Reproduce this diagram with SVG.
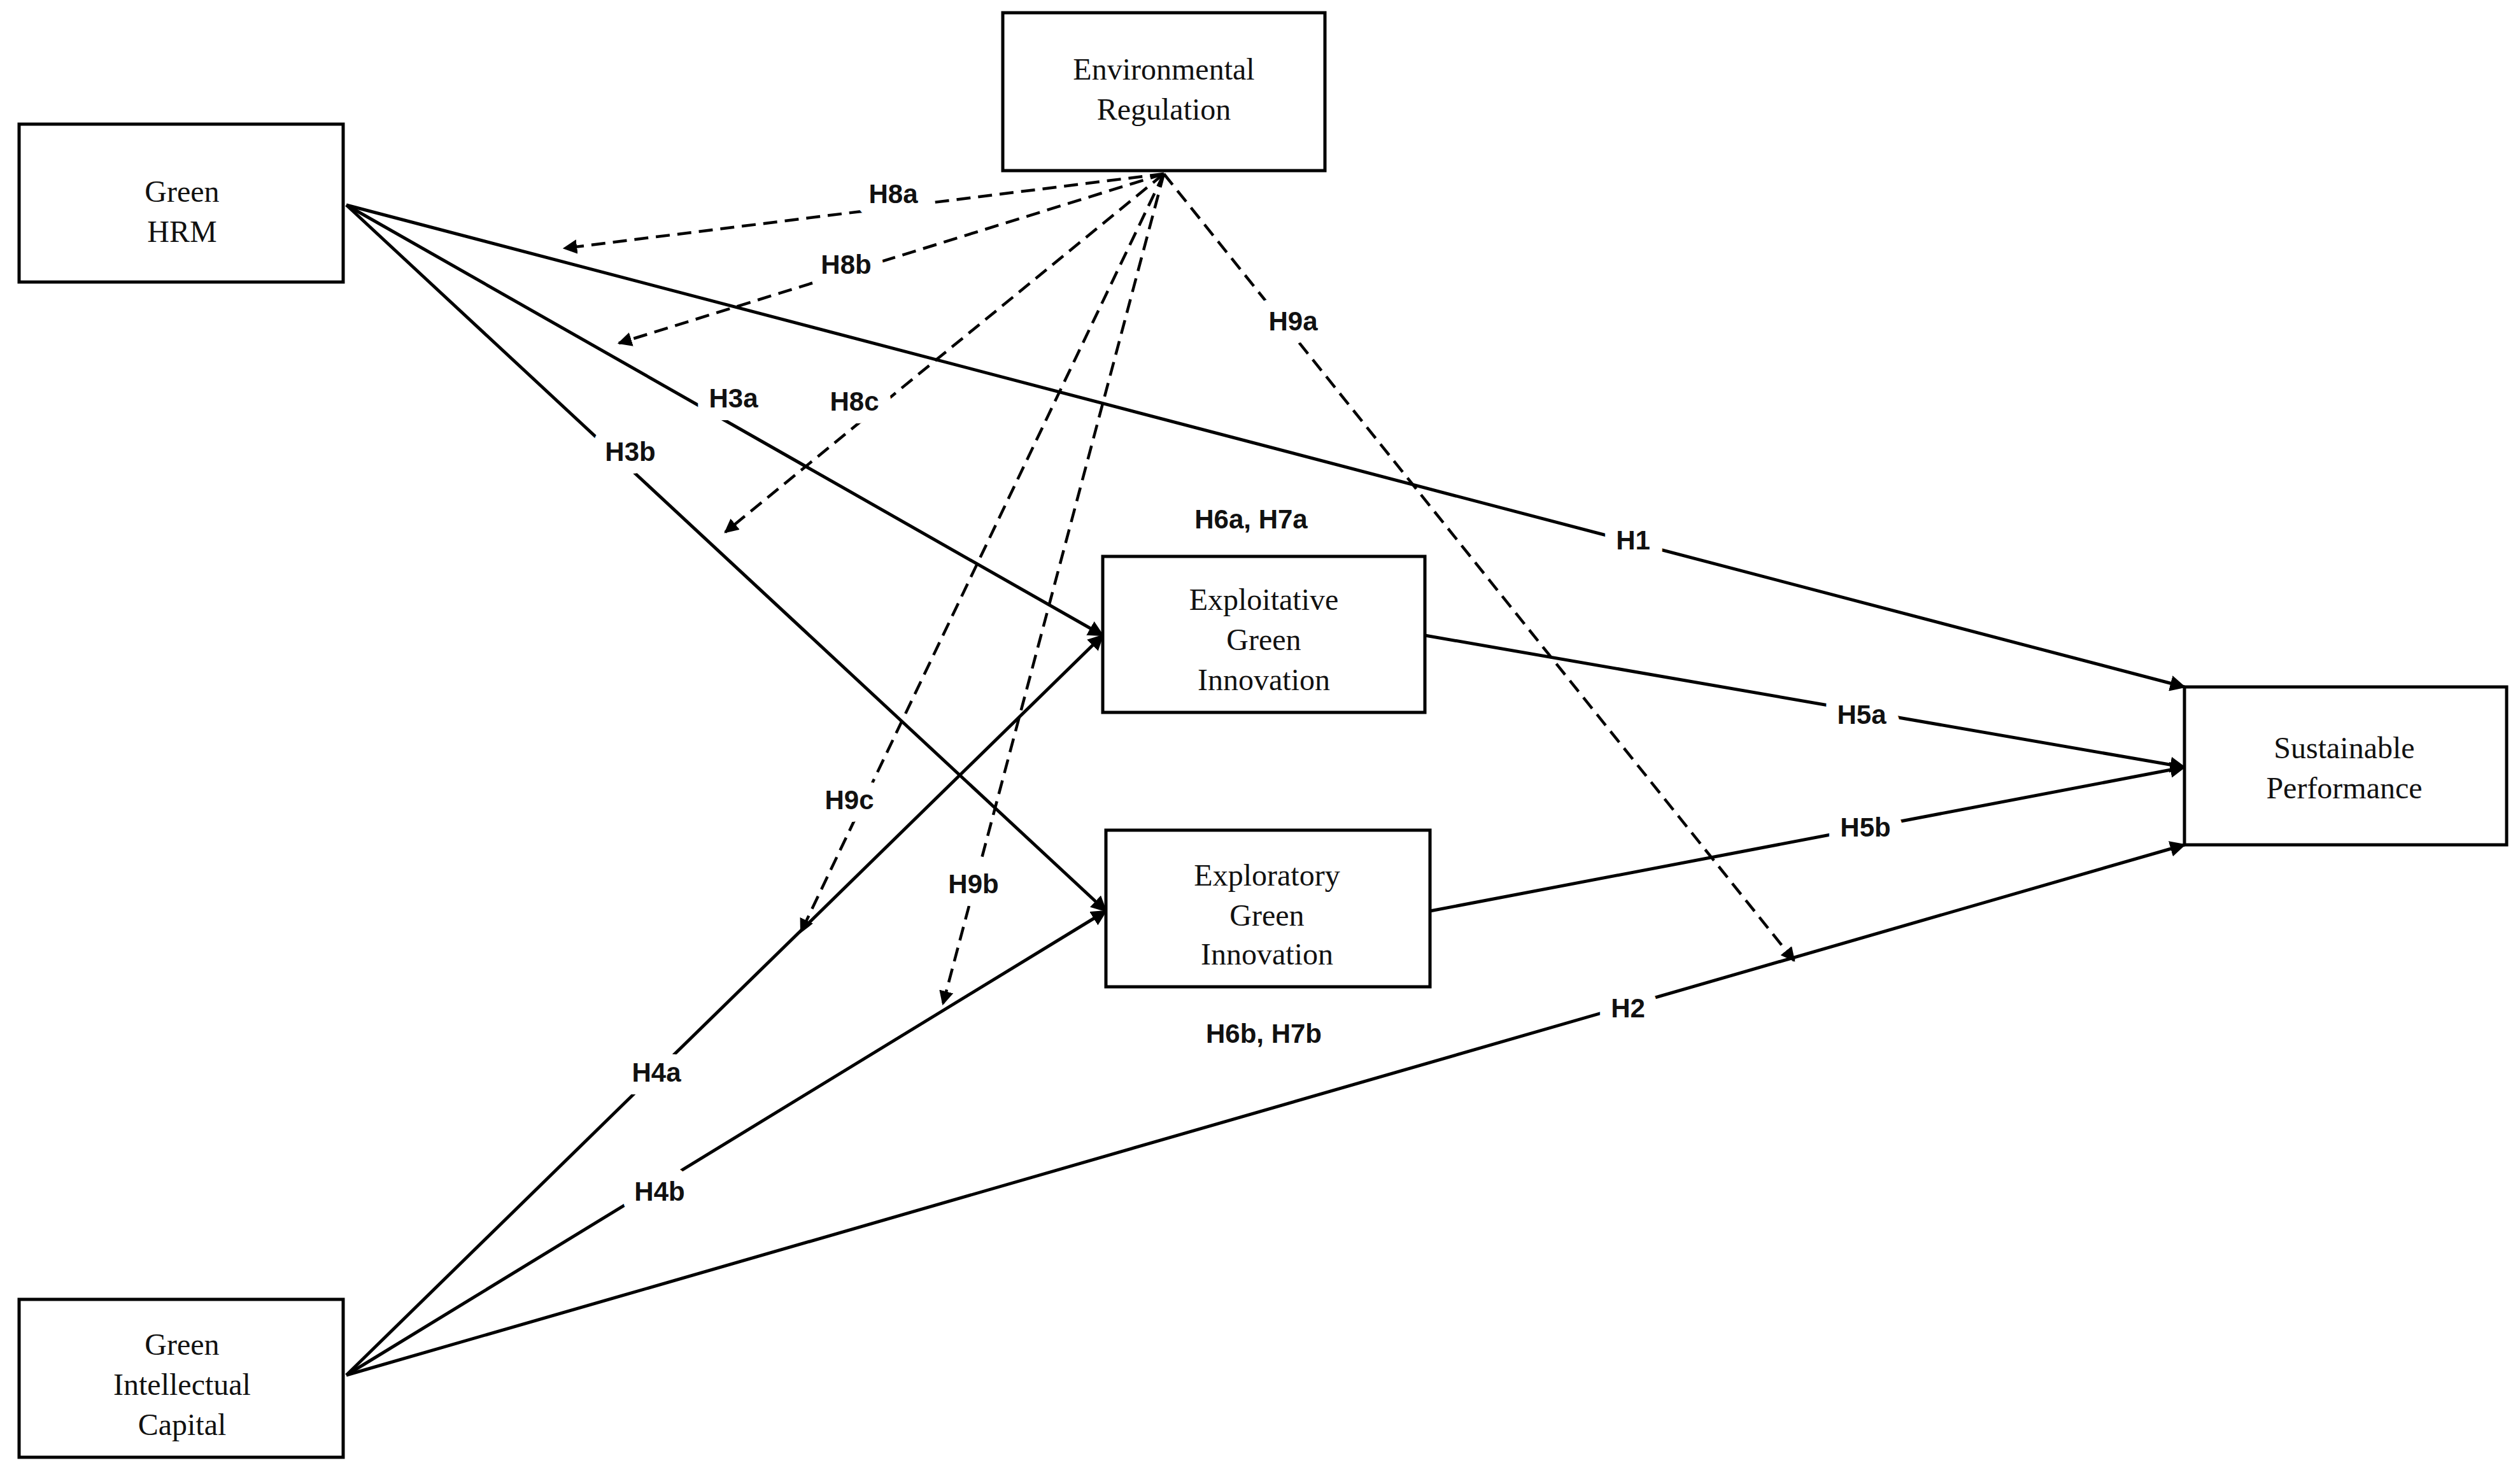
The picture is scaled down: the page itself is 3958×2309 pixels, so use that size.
<svg xmlns="http://www.w3.org/2000/svg" width="3958" height="2309" viewBox="0 0 3958 2309">
<style>
.box{fill:#fff;stroke:#000;stroke-width:5}
.nt{font-family:"Liberation Serif",serif;font-size:48px;text-anchor:middle;fill:#111}
.s{stroke:#000;stroke-width:5;fill:none}
.d{stroke:#000;stroke-width:4.5;fill:none;stroke-dasharray:22 12}
.lb{font-family:"Liberation Sans",sans-serif;font-weight:bold;font-size:42px;text-anchor:middle;fill:#111;stroke:#fff;stroke-width:40;paint-order:stroke;stroke-linejoin:round}
</style>
<defs>
<marker id="a" viewBox="0 0 10 10" refX="9" refY="5" markerWidth="5" markerHeight="5" orient="auto" markerUnits="strokeWidth"><path d="M0,0 L10,5 L0,10 z" fill="#000"/></marker>
</defs>
<rect width="3958" height="2309" fill="#fff"/>
<g id="connectors">
<line class="s" x1="544" y1="322" x2="3431" y2="1079" marker-end="url(#a)"/>
<line class="s" x1="544" y1="322" x2="1732" y2="998" marker-end="url(#a)"/>
<line class="s" x1="544" y1="322" x2="1737" y2="1431" marker-end="url(#a)"/>
<line class="s" x1="2238" y1="998" x2="3431" y2="1205" marker-end="url(#a)"/>
<line class="s" x1="2246" y1="1431" x2="3431" y2="1205" marker-end="url(#a)"/>
<line class="s" x1="544" y1="2160" x2="3431" y2="1327" marker-end="url(#a)"/>
<line class="s" x1="544" y1="2160" x2="1732" y2="998" marker-end="url(#a)"/>
<line class="s" x1="544" y1="2160" x2="1737" y2="1431" marker-end="url(#a)"/>
<line class="d" x1="1828" y1="273" x2="886" y2="390" marker-end="url(#a)"/>
<line class="d" x1="1828" y1="273" x2="972" y2="539" marker-end="url(#a)"/>
<line class="d" x1="1828" y1="273" x2="1139" y2="836" marker-end="url(#a)"/>
<line class="d" x1="1828" y1="273" x2="1258" y2="1464" marker-end="url(#a)"/>
<line class="d" x1="1828" y1="273" x2="1481" y2="1577" marker-end="url(#a)"/>
<line class="d" x1="1828" y1="273" x2="2818" y2="1509" marker-end="url(#a)"/>
</g>
<g id="labels">
<text class="lb" x="2565" y="863">H1</text>
<text class="lb" x="1152" y="640">H3a</text>
<text class="lb" x="990" y="724">H3b</text>
<text class="lb" x="2924" y="1137">H5a</text>
<text class="lb" x="2930" y="1314">H5b</text>
<text class="lb" x="2557" y="1598">H2</text>
<text class="lb" x="1031" y="1699">H4a</text>
<text class="lb" x="1036" y="1886">H4b</text>
<text class="lb" x="1403" y="319">H8a</text>
<text class="lb" x="1329" y="430">H8b</text>
<text class="lb" x="1342" y="645">H8c</text>
<text class="lb" x="1334" y="1271">H9c</text>
<text class="lb" x="1529" y="1403">H9b</text>
<text class="lb" x="2031" y="519">H9a</text>
<text class="lb" x="1965" y="830">H6a, H7a</text>
<text class="lb" x="1985" y="1638">H6b, H7b</text>
</g>
<g id="env"><rect class="box" x="1575" y="20" width="506" height="248"/><text class="nt" x="1828" y="125">Environmental</text><text class="nt" x="1828" y="188">Regulation</text></g>
<g id="hrm"><rect class="box" x="30" y="195" width="509" height="248"/><text class="nt" x="286" y="317">Green</text><text class="nt" x="286" y="380">HRM</text></g>
<g id="exploit"><rect class="box" x="1732" y="874" width="506" height="245"/><text class="nt" x="1985" y="958">Exploitative</text><text class="nt" x="1985" y="1021">Green</text><text class="nt" x="1985" y="1084">Innovation</text></g>
<g id="explor"><rect class="box" x="1737" y="1304" width="509" height="246"/><text class="nt" x="1990" y="1391">Exploratory</text><text class="nt" x="1990" y="1454">Green</text><text class="nt" x="1990" y="1515">Innovation</text></g>
<g id="sust"><rect class="box" x="3431" y="1079" width="506" height="248"/><text class="nt" x="3682" y="1191">Sustainable</text><text class="nt" x="3682" y="1254">Performance</text></g>
<g id="gic"><rect class="box" x="30" y="2041" width="509" height="248"/><text class="nt" x="286" y="2128">Green</text><text class="nt" x="286" y="2191">Intellectual</text><text class="nt" x="286" y="2254">Capital</text></g>
</svg>
